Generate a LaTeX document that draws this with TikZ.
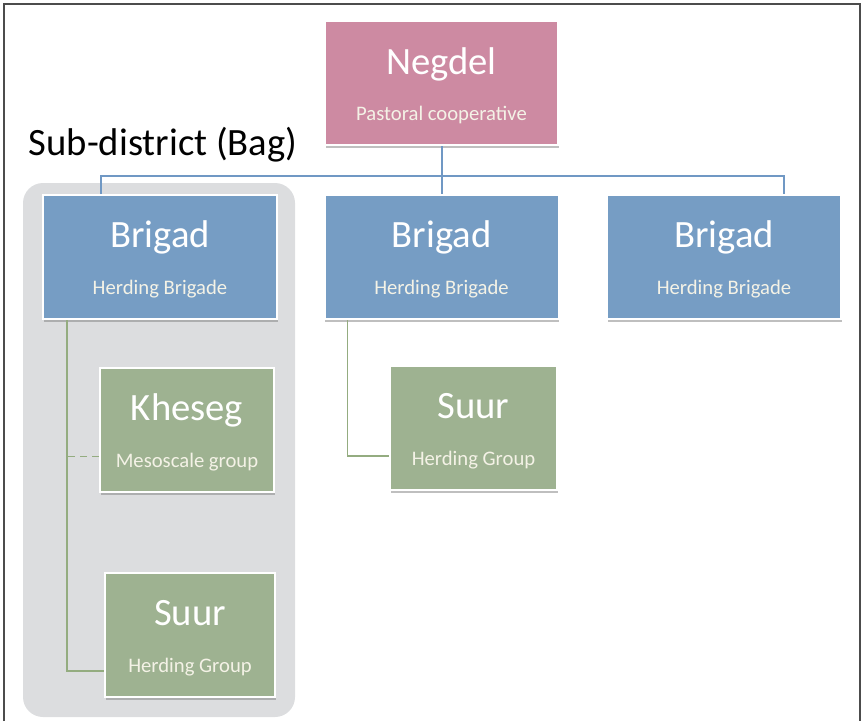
\documentclass[tikz,border=0pt]{standalone}
\usepackage{fontspec}
\setmainfont{Carlito}
\usetikzlibrary{shapes}
\usetikzlibrary{shadows}

\definecolor{negpink}{RGB}{205,138,162}
\definecolor{brigblue}{RGB}{118,157,196}
\definecolor{suurgreen}{RGB}{158,178,145}
\definecolor{baggray}{RGB}{220,221,223}
\definecolor{linkblue}{RGB}{112,152,196}
\definecolor{linkgreen}{RGB}{148,172,128}
\definecolor{subtxt}{RGB}{244,242,230}

\newcommand{\boxtext}[2]{\rule{0pt}{24pt}{\fontsize{29}{30}\selectfont #1}\\{\color{subtxt}#2}}

\begin{document}
\begin{tikzpicture}[x=0.75pt,y=-0.75pt]
				\tikzstyle{orgbox}=[rectangle,draw=white,line width=1.5pt,text=white,align=center,font=\fontsize{15.5}{35}\selectfont,drop shadow={shadow xshift=0.5pt,shadow yshift=-2pt,opacity=0.5}]
				\tikzstyle{negbox}=[orgbox,fill=negpink,minimum width=174.75pt,minimum height=93pt]
				\tikzstyle{brigbox}=[orgbox,fill=brigblue,minimum width=175.5pt,minimum height=93pt]
				\tikzstyle{suurbox}=[orgbox,fill=suurgreen,minimum width=127.5pt,minimum height=93pt]
				\tikzstyle{bluelink}=[draw=linkblue,line width=1.5pt]
				\tikzstyle{greenlink}=[draw=linkgreen,line width=1.2pt]
				
				\useasboundingbox (0,0) rectangle (862,721);
				\draw[line width=1.5pt,black!70] (4,721) -- (4,4) -- (860,4) -- (860,721);
				\fill[baggray,rounded corners=15pt] (23,183) rectangle (295,717);
				\node[anchor=base west,font=\fontsize{29}{32}\selectfont] (bag) at (24,155) {Sub-district (Bag)};
				
				\node[negbox] (negdel) at (441.5,83) {\boxtext{Negdel}{Pastoral cooperative}};
				\node[brigbox] (b1) at (160,257) {\boxtext{Brigad}{Herding Brigade}};
				\node[brigbox] (b2) at (441.5,257) {\boxtext{Brigad}{Herding Brigade}};
				\node[brigbox] (b3) at (724,257) {\boxtext{Brigad}{Herding Brigade}};
				\node[suurbox,minimum width=130.5pt] (kheseg) at (187,430) {\boxtext{Kheseg}{Mesoscale group}};
				\node[suurbox] (suur1) at (190,635) {\boxtext{Suur}{Herding Group}};
				\node[suurbox,minimum width=125.25pt] (suur2) at (473.5,428) {\boxtext{Suur}{Herding Group}};
				
				% blue links
				\coordinate (bar) at (441.5,176);
				\draw[bluelink] (negdel.south) -- (b2.north);
				\draw[bluelink] ([xshift=-44pt]b1.north) |- (bar) -| ([xshift=45pt]b3.north);
				
				% green links
				\coordinate (b1foot) at ([xshift=18.75pt]b1.south west);
				\coordinate (b2foot) at ([xshift=18pt]b2.south west);
				\coordinate (kpt) at ([yshift=-20pt]kheseg.west);
				\draw[greenlink] (b1foot) |- ([yshift=-27pt]suur1.west);
				\draw[greenlink,dash pattern=on 5pt off 4pt] (kpt) -- (b1foot |- kpt);
				\draw[greenlink] (b2foot) |- ([yshift=-21pt]suur2.west);
				
				\end{tikzpicture}
\end{document}
